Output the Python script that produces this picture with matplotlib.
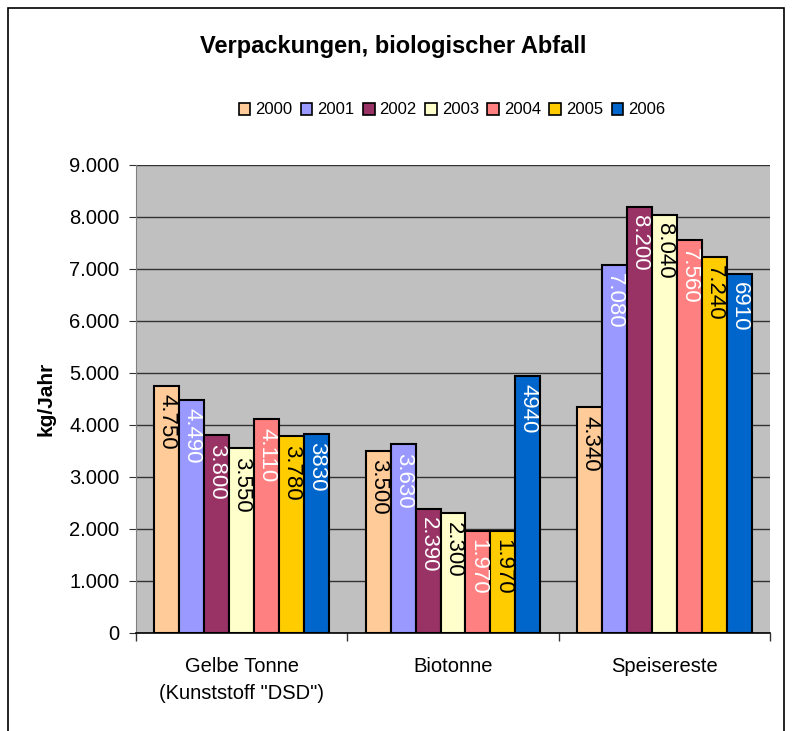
import matplotlib
matplotlib.use("Agg")
import matplotlib.pyplot as plt
import numpy as np
from matplotlib.patches import Rectangle
from matplotlib.ticker import FuncFormatter

plt.rcParams['font.family'] = ['Liberation Sans', 'DejaVu Sans']

categories = ['Gelbe Tonne\n(Kunststoff "DSD")', 'Biotonne', 'Speisereste']
years = ['2000', '2001', '2002', '2003', '2004', '2005', '2006']
values = {
    '2000': [4750, 3500, 4340],
    '2001': [4490, 3630, 7080],
    '2002': [3800, 2390, 8200],
    '2003': [3550, 2300, 8040],
    '2004': [4110, 1970, 7560],
    '2005': [3780, 1970, 7240],
    '2006': [3830, 4940, 6910],
}
value_labels = {
    '2000': ['4.750', '3.500', '4.340'],
    '2001': ['4.490', '3.630', '7.080'],
    '2002': ['3.800', '2.390', '8.200'],
    '2003': ['3.550', '2.300', '8.040'],
    '2004': ['4.110', '1.970', '7.560'],
    '2005': ['3.780', '1.970', '7.240'],
    '2006': ['3830', '4940', '6910'],
}
colors = ['#FFCC99', '#9999FF', '#993366', '#FFFFCC', '#FF8080', '#FFCC00', '#0066CC']
label_colors = ['black', 'white', 'white', 'black', 'white', 'black', 'white']

fig = plt.figure(figsize=(7.92, 7.31), dpi=100)
ax = fig.add_axes([136/792, 1-633/731, (770-136)/792, (633-165)/731])
ax.set_facecolor('#C0C0C0')

x = np.arange(len(categories))
bw = 0.118
n = len(years)
for i, y in enumerate(years):
    pos = x + (i - (n-1)/2) * bw
    bars = ax.bar(pos, values[y], width=bw, color=colors[i], edgecolor='black',
                  linewidth=1.5, label=y, zorder=3)
    for b, lab in zip(bars, value_labels[y]):
        ax.annotate(lab, (b.get_x() + b.get_width()/2, b.get_height()),
                    xytext=(0, -6), textcoords='offset points',
                    rotation=270, ha='center', va='top', fontsize=16,
                    color=label_colors[i], zorder=4)

ax.set_ylim(0, 9000)
ax.set_xlim(-0.5, 2.5)
ax.set_yticks(np.arange(0, 9001, 1000))
ax.yaxis.set_major_formatter(FuncFormatter(lambda v, p: '0' if v == 0 else f'{int(v):,}'.replace(',', '.')))
ax.grid(axis='y', color='#333333', linewidth=1, zorder=1)
ax.set_axisbelow(True)

ax.set_xticks(x)
ax.set_xticklabels(categories, fontsize=14.5, linespacing=1.55)
ax.tick_params(axis='x', length=0, pad=17)
ax.set_xticks([-0.5, 0.5, 1.5, 2.5], minor=True)
ax.tick_params(axis='x', which='minor', length=6, color='#333333', width=1)
ax.tick_params(axis='y', labelsize=14.5, length=5, color='#333333', pad=7)
for s in ['top', 'right']:
    ax.spines[s].set_visible(False)
ax.spines['left'].set_color('#808080')
ax.spines['bottom'].set_color('black')
ax.spines['bottom'].set_linewidth(1.2)

ax.set_ylabel('kg/Jahr', fontsize=15, fontweight='bold', labelpad=10)

fig.text(393/792, 1-47/731, 'Verpackungen, biologischer Abfall', ha='center', va='center',
         fontsize=17, fontweight='bold')

leg = fig.legend(loc='center', bbox_to_anchor=(452/792, 1-110/731), ncol=7, frameon=False,
                 fontsize=12, handlelength=0.7, handleheight=0.7, handletextpad=0.3,
                 columnspacing=0.5)
for h in leg.legend_handles:
    h.set_linewidth(1.2)

fig.patches.append(Rectangle((8/792, -0.05), (784-8)/792, 1.05-8/731, transform=fig.transFigure,
                             fill=False, edgecolor='black', linewidth=1.2, clip_on=False))

fig.savefig('out.png', dpi=100)
